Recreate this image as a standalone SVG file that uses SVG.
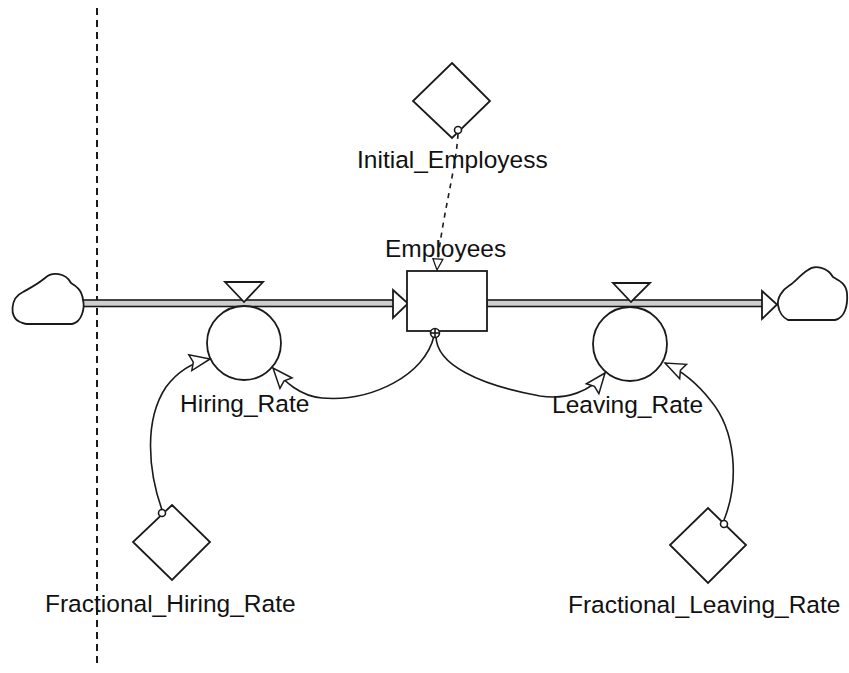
<svg xmlns="http://www.w3.org/2000/svg" width="849" height="673" viewBox="0 0 849 673">
  <defs>
    <style>
      .ln { fill: none; stroke: #1a1a1a; stroke-width: 1.6; }
      .shape { fill: #fff; stroke: #1a1a1a; stroke-width: 1.8; }
      .pipe { fill: #cfcfcf; stroke: #1a1a1a; stroke-width: 1.6; }
      .lbl { font-family: "Liberation Sans", Arial, sans-serif; font-size: 24.5px; fill: #111; }
      .dot { fill: #fff; stroke: #1a1a1a; stroke-width: 1.6; }
    </style>
    <marker id="link-head" markerUnits="userSpaceOnUse" markerWidth="26" markerHeight="22" viewBox="0 0 26 22" refX="24" refY="11" orient="auto">
      <path d="M 24 11 L 4 3 L 7 11 L 4 19 Z" fill="#fff" stroke="#1a1a1a" stroke-width="1.5"/>
    </marker>
    <marker id="init-head" markerUnits="userSpaceOnUse" markerWidth="16" markerHeight="14" viewBox="0 0 16 14" refX="14" refY="7" orient="auto">
      <path d="M 14 7 L 3 2 L 3 12 Z" fill="#fff" stroke="#1a1a1a" stroke-width="1.3"/>
    </marker>
  </defs>

  <rect width="849" height="673" fill="#fff"/>

  <!-- model boundary -->
  <line x1="97" y1="8" x2="97" y2="668" stroke="#1a1a1a" stroke-width="2" stroke-dasharray="7 5"/>

  <!-- material flows (pipes) -->
  <g id="flows">
    <rect class="pipe" x="83" y="300" width="311" height="6.5"/>
    <path class="shape" d="M 393 290 L 408 303.5 L 393 318 Z"/>
    <rect class="pipe" x="487" y="300" width="276" height="6.5"/>
    <path class="shape" d="M 762 291 L 777 304.5 L 762 319 Z"/>
  </g>

  <!-- source / sink clouds -->
  <g id="source-cloud">
    <path class="shape" d="M 27 324 L 72 324 C 82 322, 85 308, 83 300 C 82 290, 76 286, 71 283 C 66 273, 52 271, 45 278 C 38 284, 30 288, 23 292 C 10 298, 9 318, 20 322 C 23 323, 25 324, 27 324 Z"/>
  </g>
  <g id="sink-cloud">
    <path class="shape" d="M 788 320 L 835 320 C 845 318, 848 305, 847 293 C 846 283, 838 280, 833 277 C 828 268, 815 264, 808 270 C 800 275, 795 282, 790 285 C 782 290, 777 298, 778 305 C 779 312, 783 318, 788 320 Z"/>
  </g>

  <!-- stock -->
  <g id="Employees">
    <rect class="shape" x="407" y="271" width="80" height="60"/>
    <text class="lbl" x="385" y="257">Employees</text>
  </g>

  <!-- rates -->
  <g id="Hiring_Rate">
    <path class="shape" d="M 225 282 L 263 282 L 244 302 Z"/>
    <circle class="shape" cx="244" cy="343" r="37"/>
    <text class="lbl" x="180" y="412">Hiring_Rate</text>
  </g>
  <g id="Leaving_Rate">
    <path class="shape" d="M 613 283 L 650 283 L 631 302 Z"/>
    <circle class="shape" cx="630" cy="344" r="37"/>
    <text class="lbl" x="552" y="413">Leaving_Rate</text>
  </g>

  <!-- auxiliaries -->
  <g id="Initial_Employess">
    <path class="shape" d="M 452 63 L 490 101 L 452 138 L 413 101 Z"/>
    <text class="lbl" x="357" y="168">Initial_Employess</text>
  </g>
  <g id="Fractional_Hiring_Rate">
    <path class="shape" d="M 172 505 L 210 542 L 172 580 L 133 542 Z"/>
    <text class="lbl" x="45" y="612">Fractional_Hiring_Rate</text>
  </g>
  <g id="Fractional_Leaving_Rate">
    <path class="shape" d="M 708 508 L 746 545 L 708 583 L 670 545 Z"/>
    <text class="lbl" x="568" y="613">Fractional_Leaving_Rate</text>
  </g>

  <!-- information links -->
  <g id="connectors">
    <path class="ln" stroke-dasharray="5 5" d="M 458 134 C 456 170, 441 220, 437 270" marker-end="url(#init-head)"/>
    <path class="ln" d="M 434 336 C 425 375, 372 402, 322 398 C 300 396, 285 382, 273 368" marker-end="url(#link-head)"/>
    <path class="ln" d="M 436 336 C 436 365, 480 385, 540 396 C 566 400, 590 392, 605 373" marker-end="url(#link-head)"/>
    <path class="ln" d="M 162 510 C 148 470, 144 420, 166 387 C 178 371, 194 362, 210 359" marker-end="url(#link-head)"/>
    <path class="ln" d="M 724 520 C 740 480, 735 430, 711 401 C 697 383, 682 371, 665 363" marker-end="url(#link-head)"/>
    <!-- link origins -->
    <circle class="dot" cx="458" cy="130" r="3.5"/>
    <circle class="dot" cx="162" cy="513" r="3.5"/>
    <circle class="dot" cx="724" cy="524" r="3.5"/>
    <g class="ln">
      <circle cx="435" cy="333" r="4.5" fill="#fff"/>
      <line x1="430.5" y1="333" x2="439.5" y2="333"/>
      <line x1="435" y1="328.5" x2="435" y2="337.5"/>
    </g>
  </g>
</svg>
